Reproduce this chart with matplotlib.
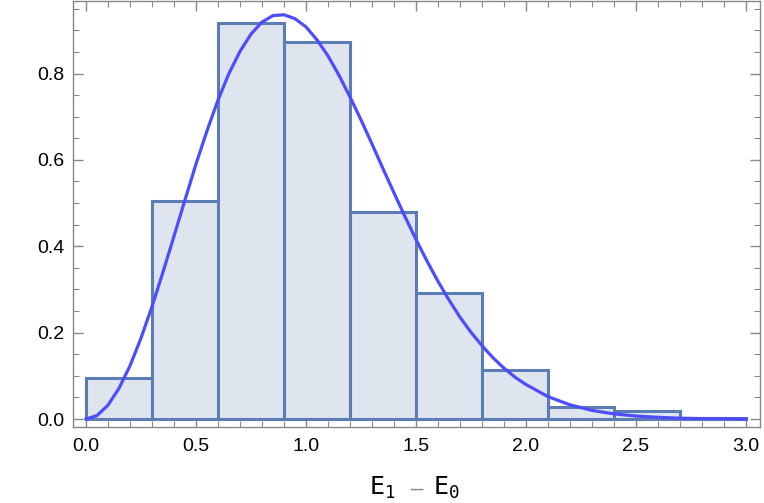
import numpy as np
import matplotlib
matplotlib.use('Agg')
import matplotlib.pyplot as plt
from matplotlib.ticker import MultipleLocator, FormatStrFormatter

# histogram bin edges and bar heights (density)
bin_edges = [0.0, 0.3, 0.6, 0.9, 1.2, 1.5, 1.8, 2.1, 2.4, 2.7, 3.0]
bar_heights = [0.095, 0.505, 0.918, 0.872, 0.479, 0.291, 0.113, 0.028, 0.019, 0.003]

# smooth curve
curve_x = [0.0, 0.05, 0.1, 0.15, 0.2, 0.25, 0.3, 0.35, 0.4, 0.45, 0.5, 0.55, 0.6,
           0.65, 0.7, 0.75, 0.8, 0.85, 0.9, 0.95, 1.0, 1.05, 1.1, 1.15, 1.2, 1.25,
           1.3, 1.35, 1.4, 1.45, 1.5, 1.55, 1.6, 1.65, 1.7, 1.75, 1.8, 1.85, 1.9,
           1.95, 2.0, 2.1, 2.2, 2.3, 2.4, 2.5, 2.6, 2.7, 2.8, 2.9, 3.0]
curve_y = [0.0, 0.008, 0.032, 0.071, 0.123, 0.187, 0.260, 0.340, 0.423, 0.507, 0.590,
           0.667, 0.738, 0.800, 0.851, 0.891, 0.919, 0.934, 0.936, 0.927, 0.908, 0.878,
           0.841, 0.796, 0.746, 0.693, 0.637, 0.580, 0.524, 0.469, 0.416, 0.366, 0.319,
           0.276, 0.236, 0.201, 0.170, 0.142, 0.118, 0.097, 0.080, 0.052, 0.033, 0.020,
           0.012, 0.007, 0.004, 0.002, 0.001, 0.001, 0.0]

plt.rcParams['font.family'] = ['Liberation Sans', 'DejaVu Sans']
plt.rcParams['mathtext.fontset'] = 'dejavusans'

fig = plt.figure(figsize=(7.64, 5.03), dpi=100)
ax = fig.add_axes([0.0955, 0.151, 0.899, 0.848])

widths = np.diff(bin_edges)
ax.bar(bin_edges[:-1], bar_heights, width=widths, align='edge',
       facecolor='#dfe5ef', edgecolor='#5b7db4', linewidth=2.2, zorder=2)
ax.plot(curve_x, curve_y, color='#4d4dff', linewidth=2.3, zorder=3)

ax.set_xlim(-0.059, 3.063)
ax.set_ylim(-0.0185, 0.969)

ax.xaxis.set_major_locator(MultipleLocator(0.5))
ax.xaxis.set_minor_locator(MultipleLocator(0.1))
ax.yaxis.set_major_locator(MultipleLocator(0.2))
ax.yaxis.set_minor_locator(MultipleLocator(0.05))
ax.xaxis.set_major_formatter(FormatStrFormatter('%.1f'))
ax.yaxis.set_major_formatter(FormatStrFormatter('%.1f'))

ax.tick_params(which='both', direction='in', top=True, right=True, color='#888888',
               labelsize=14, labelcolor='black')
ax.tick_params(which='major', length=7, width=1)
ax.tick_params(which='minor', length=4, width=0.8)
ax.tick_params(axis='x', pad=8)
ax.tick_params(axis='y', pad=6)
for s in ax.spines.values():
    s.set_color('#888888')
    s.set_linewidth(1)

# x label: E_1 - E_0 with a grey dash
fig.text(0.518, 0.016, r'$\mathtt{E_1}$', fontsize=18, ha='right', va='baseline')
fig.text(0.567, 0.016, r'$\mathtt{E_0}$', fontsize=18, ha='left', va='baseline')
fig.text(0.546, 0.028, '–', fontsize=16, ha='center', va='center', color='#888888')

fig.savefig('out.png', dpi=100)
